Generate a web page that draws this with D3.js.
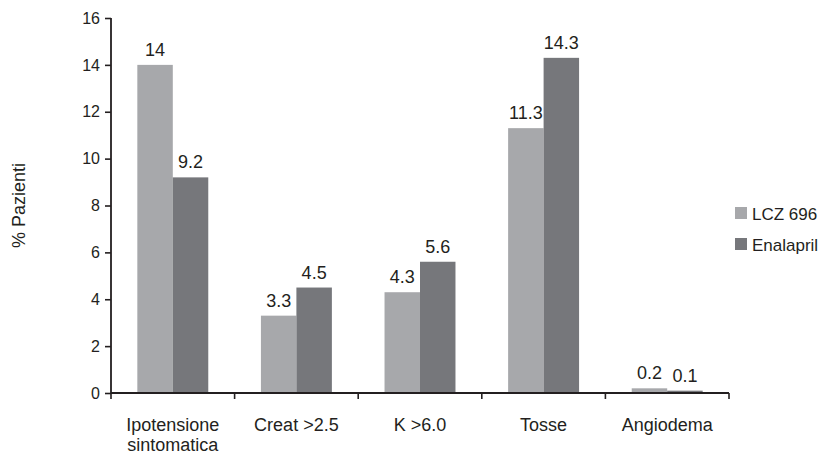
<!DOCTYPE html>
<html>
<head>
<meta charset="utf-8">
<script src="https://cdn.jsdelivr.net/npm/d3@7"></script>
<style>
  html, body { margin: 0; padding: 0; background: #fff; }
  svg { display: block; font-family: "Liberation Sans", Arial, Helvetica, sans-serif; }
</style>
</head>
<body>
<svg id="chart" width="824" height="454"></svg>
<script>
// Adverse events, % of patients per treatment arm
const categories = ["Ipotensione sintomatica", "Creat >2.5", "K >6.0", "Tosse", "Angiodema"];
const seriesNames = ["LCZ 696", "Enalapril"];
const lczValues = [14, 3.3, 4.3, 11.3, 0.2];
const enalaprilValues = [9.2, 4.5, 5.6, 14.3, 0.1];
const yTicks = [0, 2, 4, 6, 8, 10, 12, 14, 16];
const yLabel = "% Pazienti";

const colors = { "LCZ 696": "#a7a8ab", "Enalapril": "#76777b" };
const textColor = "#231f20";

const rows = categories.map((c, i) => ({
  category: c,
  values: [
    { series: seriesNames[0], value: lczValues[i] },
    { series: seriesNames[1], value: enalaprilValues[i] }
  ]
}));

const svg = d3.select("#chart");
const plot = { left: 111, right: 729, top: 18, bottom: 393 };

const x = d3.scaleBand().domain(categories).range([plot.left, plot.right]).padding(0);
const groupPad = x.bandwidth() * 0.213;
const xs = d3.scaleBand().domain(seriesNames)
  .range([groupPad, x.bandwidth() - groupPad]).padding(0);
const y = d3.scaleLinear().domain([0, 16]).range([plot.bottom, plot.top]);

// Bars
const groups = svg.append("g").selectAll("g").data(rows).join("g")
  .attr("transform", d => `translate(${x(d.category)},0)`);

groups.selectAll("rect").data(d => d.values).join("rect")
  .attr("x", d => xs(d.series))
  .attr("width", xs.bandwidth())
  .attr("y", d => y(d.value))
  .attr("height", d => y(0) - y(d.value))
  .attr("fill", d => colors[d.series]);

// Value labels
groups.selectAll("text").data(d => d.values).join("text")
  .attr("x", d => xs(d.series) + xs.bandwidth() / 2)
  .attr("y", d => y(d.value) - 9)
  .attr("text-anchor", "middle")
  .attr("font-size", 18)
  .attr("fill", textColor)
  .text(d => d.value);

// Y axis
const yAxis = svg.append("g")
  .attr("transform", `translate(${plot.left},0)`)
  .call(d3.axisLeft(y).tickValues(yTicks).tickSize(6).tickPadding(5).tickFormat(d3.format("d")));
yAxis.selectAll("path, line").attr("stroke", textColor).attr("stroke-width", 1.6);
yAxis.select(".domain").attr("d", `M0,${plot.top}V${plot.bottom}`).attr("stroke-width", 1.8);
yAxis.selectAll("text").attr("font-size", 16).attr("fill", textColor)
  .attr("font-family", "Liberation Sans, Arial, sans-serif");

// X axis: ticks on the category boundaries
const boundaries = categories.map(c => x(c)).concat([plot.right]);
const xAxisG = svg.append("g");
xAxisG.append("line")
  .attr("x1", plot.left).attr("x2", plot.right)
  .attr("y1", plot.bottom).attr("y2", plot.bottom)
  .attr("stroke", textColor).attr("stroke-width", 1.8);
xAxisG.selectAll("line.tick").data(boundaries).join("line")
  .attr("class", "tick")
  .attr("x1", d => d).attr("x2", d => d)
  .attr("y1", plot.bottom).attr("y2", plot.bottom + 6)
  .attr("stroke", textColor).attr("stroke-width", 1.6);

// Category labels (wrapped on spaces for the long one)
const catLabels = xAxisG.selectAll("text.cat").data(categories).join("text")
  .attr("class", "cat")
  .attr("text-anchor", "middle")
  .attr("font-size", 18)
  .attr("fill", textColor)
  .attr("transform", d => `translate(${x(d) + x.bandwidth() / 2},${plot.bottom + 38})`);
catLabels.each(function(d) {
  const lines = d === "Ipotensione sintomatica" ? d.split(" ") : [d];
  d3.select(this).selectAll("tspan").data(lines).join("tspan")
    .attr("x", 0).attr("dy", (l, i) => i === 0 ? 0 : 20).text(l => l);
});

// Y label
svg.append("text")
  .attr("transform", `translate(25,${(plot.top + plot.bottom) / 2}) rotate(-90)`)
  .attr("text-anchor", "middle")
  .attr("font-size", 18)
  .attr("fill", textColor)
  .text(yLabel);

// Legend
const legend = svg.append("g").attr("transform", "translate(735,207)");
const items = legend.selectAll("g").data(seriesNames).join("g")
  .attr("transform", (d, i) => `translate(0,${i * 31})`);
items.append("rect").attr("width", 12).attr("height", 12).attr("fill", d => colors[d]);
items.append("text").attr("x", 17).attr("y", 12.5)
  .attr("font-size", 17).attr("fill", textColor).text(d => d);
</script>
</body>
</html>
